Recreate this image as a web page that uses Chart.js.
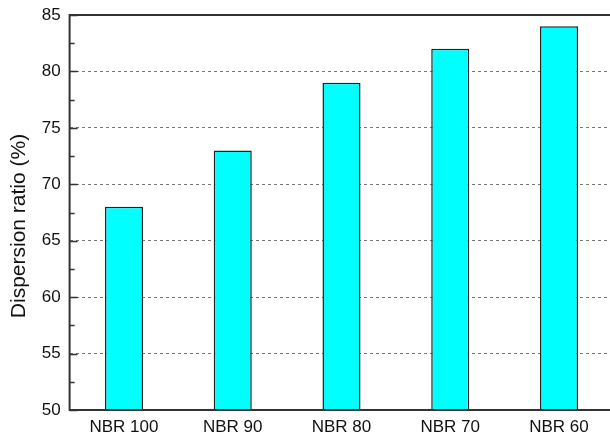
<!DOCTYPE html>
<html>
<head>
<meta charset="utf-8">
<script src="https://cdn.jsdelivr.net/npm/chart.js@4/dist/chart.umd.min.js"></script>
<style>
  html, body { margin: 0; padding: 0; background: #fff; overflow: hidden; }
  #wrap { width: 614px; height: 435px; position: relative; }
</style>
</head>
<body>
<div id="wrap"><canvas id="grafico"></canvas></div>
<script>
const muestras = ['NBR 100', 'NBR 90', 'NBR 80', 'NBR 70', 'NBR 60'];
const dispersion = [68, 73, 79, 82, 84];
const ejeMin = 50;
const ejeMax = 85;
const paso = 5;
const tituloY = 'Dispersion ratio (%)';

// marco del grafico: ejes, linea superior, marcas hacia dentro y titulo del eje Y
const marco = {
    id: 'marco',
    afterDraw(chart) {
        const ctx = chart.ctx;
        const area = chart.chartArea;
        const y = chart.scales.y;
        ctx.save();
        ctx.strokeStyle = '#333';
        ctx.lineWidth = 2;
        ctx.beginPath();
        ctx.moveTo(area.left, area.top);
        ctx.lineTo(area.left, area.bottom);
        ctx.lineTo(area.right + 2, area.bottom);
        ctx.moveTo(area.left - 1, area.top);
        ctx.lineTo(area.right + 2, area.top);
        ctx.stroke();

        ctx.lineWidth = 1.5;
        ctx.beginPath();
        for (let v = ejeMin; v <= ejeMax; v += paso / 2) {
            const py = Math.round(y.getPixelForValue(v)) + 0.5;
            const largo = (v % paso === 0) ? 8 : 5;
            ctx.moveTo(area.left, py);
            ctx.lineTo(area.left + largo, py);
        }
        ctx.stroke();

        ctx.translate(19, 226);
        ctx.rotate(-Math.PI / 2);
        ctx.fillStyle = '#111';
        ctx.font = '21px "Liberation Sans", Arial';
        ctx.textAlign = 'center';
        ctx.textBaseline = 'middle';
        ctx.fillText(tituloY, 0, 0);
        ctx.restore();
    }
};

new Chart(document.getElementById('grafico'), {
    type: 'bar',
    data: {
        labels: muestras,
        datasets: [{
            data: dispersion,
            backgroundColor: '#00ffff',
            borderColor: '#222',
            borderWidth: 1.5,
            barPercentage: 0.35,
            categoryPercentage: 1
        }]
    },
    options: {
        responsive: true,
        maintainAspectRatio: false,
        animation: false,
        layout: { padding: { top: 15, right: 0.6, left: 0, bottom: 0 } },
        plugins: { legend: { display: false }, tooltip: { enabled: false } },
        scales: {
            x: {
                grid: { display: false, drawTicks: false },
                border: { display: false },
                ticks: {
                    color: '#111',
                    padding: 7,
                    font: { family: 'Liberation Sans, Arial', size: 17 }
                },
                afterFit(scale) { scale.height = 25; }
            },
            y: {
                min: ejeMin,
                max: ejeMax,
                grid: {
                    color: '#777',
                    lineWidth: 1,
                    drawTicks: false
                },
                border: { display: false, dash: [3, 3] },
                ticks: {
                    stepSize: paso,
                    color: '#111',
                    padding: 9,
                    font: { family: 'Liberation Sans, Arial', size: 17 }
                },
                afterFit(scale) {
                    scale.width = 69.6;
                    scale.paddingTop = 0;
                    scale.paddingBottom = 0;
                }
            }
        }
    },
    plugins: [marco]
});
</script>
</body>
</html>
